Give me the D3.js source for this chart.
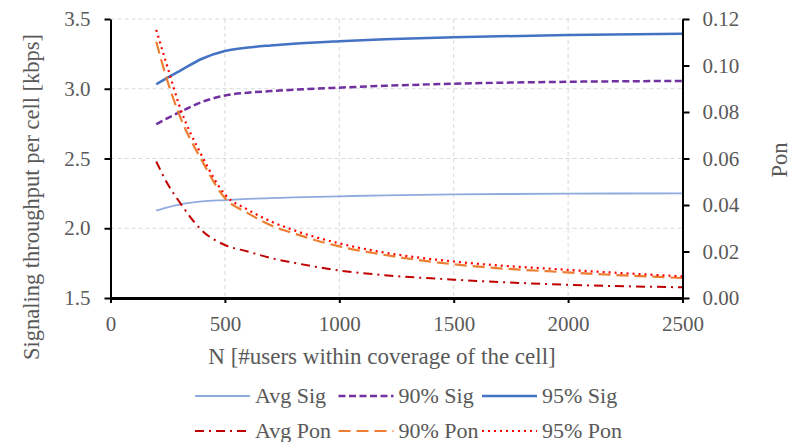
<!DOCTYPE html>
<html>
<head>
<meta charset="utf-8">
<script src="https://cdn.jsdelivr.net/npm/d3@7"></script>
<style>
  body { margin: 0; background: #fff; }
  svg { display: block; }
  .grid line { stroke: #d9d9d9; stroke-dasharray: 4,3; }
</style>
</head>
<body>
<svg></svg>
<script>
// N values (users within coverage)
var users = [200, 250, 300, 400, 500, 600, 700, 800, 1000, 1200, 1500, 2000, 2500]

// signaling throughput [kbps], left axis
var avgSig = [2.127, 2.150, 2.170, 2.193, 2.202, 2.210, 2.216, 2.221, 2.229, 2.236, 2.243, 2.248, 2.250]
var sig90 = [2.746, 2.790, 2.830, 2.905, 2.952, 2.972, 2.983, 2.993, 3.008, 3.021, 3.036, 3.050, 3.056]
var sig95 = [3.032, 3.080, 3.125, 3.215, 3.270, 3.295, 3.310, 3.322, 3.340, 3.355, 3.370, 3.385, 3.395]

// Pon, right axis
var avgPon = [0.0587, 0.0490, 0.0415, 0.0290, 0.0228, 0.0200, 0.0172, 0.0152, 0.0118, 0.0098, 0.0079, 0.0057, 0.0046]
var pon90 = [0.1102, 0.0930, 0.0790, 0.0590, 0.0430, 0.0365, 0.0313, 0.0278, 0.0222, 0.0185, 0.0145, 0.0110, 0.0086]
var pon95 = [0.1153, 0.0990, 0.0830, 0.0610, 0.0445, 0.0380, 0.0330, 0.0292, 0.0235, 0.0195, 0.0157, 0.0121, 0.0093]

var xTicks = [0, 500, 1000, 1500, 2000, 2500]
var leftTicks = [1.5, 2.0, 2.5, 3.0, 3.5]
var rightTicks = [0, 0.02, 0.04, 0.06, 0.08, 0.10, 0.12]

var series = [
  { name: "Avg Sig", values: avgSig, axis: "left", color: "#8faadc", width: 1.8, dash: null },
  { name: "90% Sig", values: sig90, axis: "left", color: "#7030a0", width: 2.5, dash: "7,3.5" },
  { name: "95% Sig", values: sig95, axis: "left", color: "#4472c4", width: 2.5, dash: null },
  { name: "Avg Pon", values: avgPon, axis: "right", color: "#c00000", width: 2, dash: "9,5,2,5" },
  { name: "90% Pon", values: pon90, axis: "right", color: "#ed7d31", width: 2.2, dash: "12,6" },
  { name: "95% Pon", values: pon95, axis: "right", color: "#ff0000", width: 2.2, dash: "2,4" }
]

var FONT = "'Liberation Serif', 'Times New Roman', Times, serif"
var GREY = "#595959"

var screen = { width: 798, height: 442 }
var margins = { left: 110.5, right: 115.5, top: 19, bottom: 144 }
var graph = {
  width: screen.width - margins.left - margins.right,
  height: screen.height - margins.top - margins.bottom
}

var svg = d3.select("svg")
  .attr("width", screen.width)
  .attr("height", screen.height)

var xScale = d3.scaleLinear().domain([0, 2500]).range([0, graph.width])
var yLeft = d3.scaleLinear().domain([1.5, 3.5]).range([graph.height, 0])
var yRight = d3.scaleLinear().domain([0, 0.12]).range([graph.height, 0])

var target = svg.append("g")
  .attr("transform", "translate(" + margins.left + "," + margins.top + ")")

// dashed grid
var grid = target.append("g").classed("grid", true)
grid.selectAll(".v")
  .data(xTicks.filter(function (t) { return t > 0 && t < 2500 }))
  .enter().append("line")
  .attr("x1", function (t) { return xScale(t) })
  .attr("x2", function (t) { return xScale(t) })
  .attr("y1", 0)
  .attr("y2", graph.height)
grid.selectAll(".h")
  .data(leftTicks.filter(function (t) { return t > 1.5 }))
  .enter().append("line")
  .attr("x1", 0)
  .attr("x2", graph.width)
  .attr("y1", function (t) { return yLeft(t) })
  .attr("y2", function (t) { return yLeft(t) })

// lines
var lines = target.append("g").attr("fill", "none")
series.forEach(function (s) {
  var yScale = s.axis == "left" ? yLeft : yRight
  var lineGenerator = d3.line()
    .x(function (d, i) { return xScale(users[i]) })
    .y(function (d) { return yScale(d) })
    .curve(d3.curveMonotoneX)
  lines.append("path")
    .datum(s.values)
    .attr("d", lineGenerator)
    .attr("stroke", s.color)
    .attr("stroke-width", s.width)
    .attr("stroke-dasharray", s.dash)
})

// axes
var styleAxis = function (g, w) {
  g.attr("font-family", FONT).attr("font-size", 21)
  g.select(".domain").attr("stroke", "#000").attr("stroke-width", w)
  g.selectAll(".tick line").attr("stroke", "#000").attr("stroke-width", 2)
  g.selectAll(".tick text").attr("fill", GREY).attr("font-family", FONT)
}

target.append("g")
  .call(d3.axisLeft(yLeft).tickValues(leftTicks).tickFormat(d3.format(".1f"))
    .tickSize(6).tickSizeOuter(0).tickPadding(14))
  .call(styleAxis, 2)

target.append("g")
  .attr("transform", "translate(" + graph.width + ",0)")
  .call(d3.axisRight(yRight).tickValues(rightTicks).tickFormat(d3.format(".2f"))
    .tickSize(7).tickSizeOuter(0).tickPadding(13))
  .call(styleAxis, 2)

target.append("g")
  .attr("transform", "translate(0," + graph.height + ")")
  .call(d3.axisBottom(xScale).tickValues(xTicks).tickFormat(d3.format("d"))
    .tickSize(5).tickSizeOuter(0).tickPadding(13))
  .call(styleAxis, 3)

// axis titles
var addLabel = function (txt, transform, size) {
  return svg.append("text")
    .attr("font-family", FONT)
    .attr("font-size", size)
    .attr("fill", GREY)
    .attr("text-anchor", "middle")
    .attr("transform", transform)
    .text(txt)
}
addLabel("N [#users within coverage of the cell]", "translate(382,364)", 23)
addLabel("Signaling throughput per cell [kbps]", "translate(39,197) rotate(-90)", 22.5)
addLabel("Pon", "translate(787,160) rotate(-90)", 22.5)

// legend, two rows of three
var legend = svg.append("g")
var item = legend.selectAll("g")
  .data(series)
  .enter().append("g")
  .attr("transform", function (s, i) {
    return "translate(" + (195 + (i % 3) * 143.5) + "," + (396 + Math.floor(i / 3) * 35) + ")"
  })
item.append("line")
  .attr("x1", 0).attr("x2", 55)
  .attr("stroke", function (s) { return s.color })
  .attr("stroke-width", function (s) { return s.width })
  .attr("stroke-dasharray", function (s) { return s.dash })
item.append("text")
  .attr("font-family", FONT)
  .attr("font-size", 22)
  .attr("fill", GREY)
  .attr("x", 60)
  .attr("y", 7)
  .text(function (s) { return s.name })
</script>
</body>
</html>
